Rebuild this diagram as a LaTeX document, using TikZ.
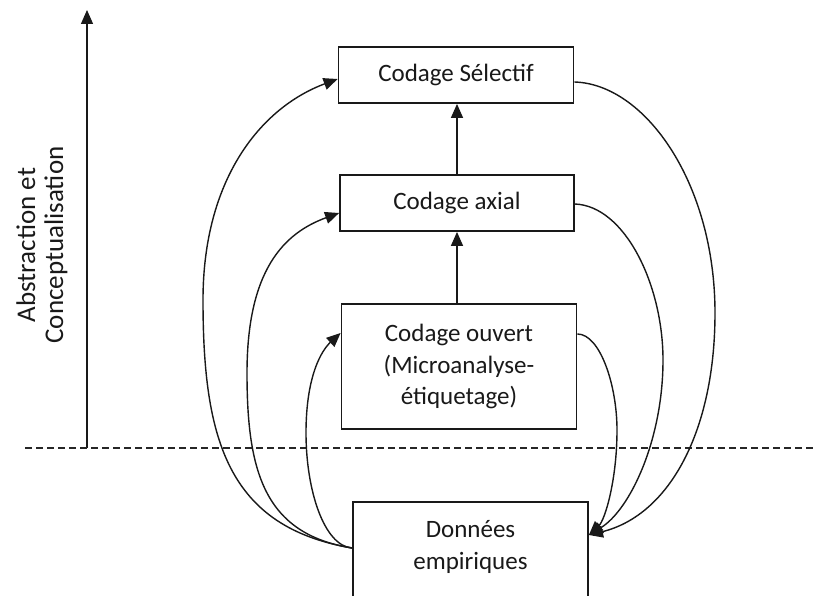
\documentclass[tikz,border=0pt]{standalone}
\usepackage{fontspec}
\setmainfont{Carlito}
\usetikzlibrary{arrows.meta}
\begin{document}
\begin{tikzpicture}[x=1pt,y=-1pt,
  box/.style={draw=black!90, line width=1.8pt, rectangle, inner sep=0pt, align=center,
    font=\fontsize{25}{31.5}\selectfont, text=black!90},
  txt/.style={align=center, inner sep=0pt, font=\fontsize{25}{32.5}\selectfont, text=black!90},
  conn/.style={line width=1.4pt, draw=black!90, -{Triangle[length=14pt,width=12pt]}},
  guide/.style={line width=1.4pt, draw=black!85, dash pattern=on 7pt off 4pt},
  ]
\useasboundingbox (0,0) rectangle (814,596);
\clip (0,0) rectangle (814,596);

% boxes
\node[box, minimum width=235pt, minimum height=56pt] (sel) at (456,75) {Codage Sélectif};
\node[box, minimum width=234pt, minimum height=56pt] (ax) at (457,203) {Codage axial};
\node[box, minimum width=235pt, minimum height=125pt] (ouv) at (459,366.5) {Codage ouvert\\(Microanalyse-\\étiquetage)};
\node[box, minimum width=235pt, minimum height=120pt, anchor=north] (don) at (470.5,501) {};
\node[txt] (dontext) at (470.5,547) {Données\\empiriques};

% axis
\coordinate (abase) at (87,448);
\coordinate (atop) at (87,10);
\draw[conn] (abase) -- (atop);
\node[rotate=90, align=center, inner sep=0pt, text=black!90,
  font=\fontsize{27}{28}\selectfont] (lbl) at (42,245) {Abstraction et\\Conceptualisation};

% dashed boundary
\coordinate (dl) at (25,448);
\coordinate (dr) at (814,448);
\draw[guide] (dl) -- (dr);

% vertical arrows
\draw[conn] (ax.south |- ouv.north) -- (ax.south);
\draw[conn] (ax.north) -- (ax.north |- sel.south);

% anchor points on the data box
\coordinate (dl0) at ([yshift=-47pt]don.north west);
\coordinate (dr0) at ([yshift=-34pt]don.north east);

% left feedback curves
\draw[conn] (dl0) .. controls (228,527) and (203,440) .. (203,300)
  .. controls (203,180) and (260,108) .. ([yshift=-4pt]sel.west);
\draw[conn] (dl0) .. controls (264,534) and (247,471) .. (247,373)
  .. controls (247,270) and (284,233) .. ([yshift=-10pt]ax.west);
\draw[conn] (dl0) .. controls (324,546) and (306,490) .. (306,433)
  .. controls (306,375) and (322,350) .. ([yshift=33.5pt]ouv.west);

% right curves
\draw[conn] ([yshift=-7pt]sel.east) .. controls (645,84) and (715,183) .. (715,313)
  .. controls (715,430) and (670,515) .. (dr0);
\draw[conn] ([yshift=-1pt]ax.east) .. controls (625,206) and (663,285) .. (663,360)
  .. controls (663,440) and (630,510) .. (dr0);
\draw[conn] ([yshift=32.5pt]ouv.east) .. controls (600,334) and (617,385) .. (617,430)
  .. controls (617,480) and (605,520) .. (dr0);
\end{tikzpicture}
\end{document}
